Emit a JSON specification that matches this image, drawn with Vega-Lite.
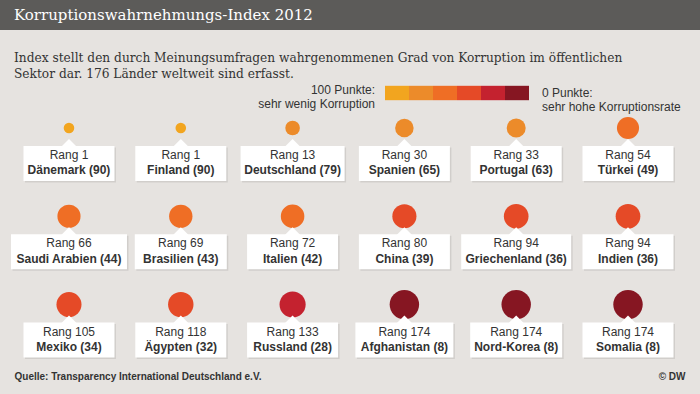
{
  "$schema": "https://vega.github.io/schema/vega-lite/v6.json",
  "width": 700,
  "height": 364,
  "autosize": {"type": "none"},
  "padding": {"top": 30, "left": 0, "right": 0, "bottom": 0},
  "background": "#5c5b59",
  "config": {
    "view": {"stroke": null, "fill": "#e6e3e0"},
    "font": "Liberation Sans",
    "axis": {"labels": false, "ticks": false, "domain": false, "grid": false}
  },
  "title": {
    "text": "Korruptionswahrnehmungs-Index 2012",
    "subtitle": ["Index stellt den durch Meinungsumfragen wahrgenommenen Grad von Korruption im öffentlichen", "Sektor dar. 176 Länder weltweit sind erfasst."],
    "anchor": "start",
    "frame": "group",
    "dx": 14,
    "offset": -50,
    "font": "DejaVu Serif",
    "fontSize": 15,
    "fontWeight": "normal",
    "color": "#ffffff",
    "subtitleFont": "DejaVu Serif",
    "subtitleFontSize": 12.2,
    "subtitleColor": "#333333",
    "subtitleLineHeight": 16,
    "subtitlePadding": 29
  },
  "data": {
    "values": [
      {"land": "Dänemark", "rang": 1, "punkte": 90},
      {"land": "Finland", "rang": 1, "punkte": 90},
      {"land": "Deutschland", "rang": 13, "punkte": 79},
      {"land": "Spanien", "rang": 30, "punkte": 65},
      {"land": "Portugal", "rang": 33, "punkte": 63},
      {"land": "Türkei", "rang": 54, "punkte": 49},
      {"land": "Saudi Arabien", "rang": 66, "punkte": 44},
      {"land": "Brasilien", "rang": 69, "punkte": 43},
      {"land": "Italien", "rang": 72, "punkte": 42},
      {"land": "China", "rang": 80, "punkte": 39},
      {"land": "Griechenland", "rang": 94, "punkte": 36},
      {"land": "Indien", "rang": 94, "punkte": 36},
      {"land": "Mexiko", "rang": 105, "punkte": 34},
      {"land": "Ägypten", "rang": 118, "punkte": 32},
      {"land": "Russland", "rang": 133, "punkte": 28},
      {"land": "Afghanistan", "rang": 174, "punkte": 8},
      {"land": "Nord-Korea", "rang": 174, "punkte": 8},
      {"land": "Somalia", "rang": 174, "punkte": 8}
    ]
  },
  "transform": [
    {"window": [{"op": "row_number", "as": "i"}]},
    {"calculate": "(datum.i - 1) % 6 + 1", "as": "col"},
    {"calculate": "floor((datum.i - 1) / 6) + 1", "as": "row"},
    {"calculate": "'Rang ' + datum.rang", "as": "rl"},
    {"calculate": "datum.land + ' (' + datum.punkte + ')'", "as": "nl"},
    {"calculate": "max(91, 6 * length(datum.nl) + 8) / 2 / 111.8", "as": "hw"},
    {"calculate": "datum.col - datum.hw", "as": "xl"},
    {"calculate": "datum.col + datum.hw", "as": "xr"}
  ],
  "encoding": {
    "x": {
      "field": "col", "type": "quantitative",
      "scale": {"domain": [0.383, 6.644], "nice": false, "zero": false},
      "axis": {"orient": "bottom", "title": "Quelle: Transparency International Deutschland e.V.", "titleAnchor": "start", "titleAlign": "left", "titleX": 14, "titleY": -15, "titleBaseline": "alphabetic", "titleFont": "Liberation Sans", "titleFontSize": 10, "titleFontWeight": "bold", "titleColor": "#333333"}
    },
    "y": {
      "field": "row", "type": "quantitative",
      "scale": {"domain": [-0.3137, 3.8087], "nice": false, "zero": false, "reverse": true},
      "axis": {"orient": "right", "title": "© DW", "titleAngle": 0, "titleAlign": "right", "titleX": -15, "titleY": 349, "titleBaseline": "alphabetic", "titleFont": "Liberation Sans", "titleFontSize": 10, "titleFontWeight": "bold", "titleColor": "#333333"}
    }
  },
  "layer": [
    {
      "mark": {"type": "point", "filled": true, "shape": "circle", "opacity": 1, "yOffset": -18, "strokeWidth": 0},
      "encoding": {
        "size": {"field": "punkte", "type": "quantitative", "scale": {"domain": [100, 0], "range": [20, 940], "zero": false, "nice": false}, "legend": null},
        "opacity": {"field": "punkte", "type": "quantitative", "scale": {"type": "threshold", "domain": [20, 30, 40, 50, 80], "range": [1, 1, 1, 1, 1, 1]}},
        "color": {
          "field": "punkte", "type": "quantitative",
          "scale": {"type": "threshold", "domain": [20, 30, 40, 50, 80], "range": ["#861622", "#c4222f", "#e54a27", "#ef6e25", "#ec8b2a", "#f2a51f"]},
          "legend": {
            "type": "symbol",
            "orient": "none", "legendX": 258, "legendY": 51,
            "direction": "horizontal", "columns": 6, "columnPadding": 0,
            "values": [90, 79, 49, 39, 28, 8],
            "symbolType": "M-1,-0.6L1,-0.6L1,0.6L-1,0.6Z", "symbolSize": 576, "symbolStrokeWidth": 0, "symbolOpacity": 1,
            "labelOffset": {"expr": "datum.value == 8 ? 13 : 0"},
            "labelExpr": "datum.value == 8 ? ['0 Punkte:', 'sehr hohe Korruptionsrate'] : ['', '']",
            "labelFont": "Liberation Sans", "labelFontSize": 12, "labelColor": "#333333", "labelLimit": 300, "labelLineHeight": 14,
            "title": ["100 Punkte:", "sehr wenig Korruption"],
            "titleOrient": "left", "titleAlign": "right", "titleFont": "Liberation Sans", "titleFontSize": 12, "titleFontWeight": "normal", "titleColor": "#333333", "titlePadding": -107, "titleLineHeight": 14, "titleLimit": 300,
            "padding": 0, "offset": 0
          }
        }
      }
    },
    {
      "mark": {"type": "rect", "fill": "#000000", "opacity": 0.09, "xOffset": 1.5, "x2Offset": 1.5, "yOffset": 1.5, "y2Offset": 36.5},
      "encoding": {
        "x": {"field": "xl", "type": "quantitative"},
        "x2": {"field": "xr"},
        "y2": {"field": "row"}
      }
    },
    {
      "mark": {"type": "rect", "fill": "#ffffff", "y2Offset": 35},
      "encoding": {
        "x": {"field": "xl", "type": "quantitative"},
        "x2": {"field": "xr"},
        "y2": {"field": "row"}
      }
    },
    {
      "mark": {"type": "point", "filled": true, "shape": "M-1,1L0,0L1,1Z", "size": 256, "fill": "#ffffff", "opacity": 1, "strokeWidth": 0, "yOffset": -7}
    },
    {
      "mark": {"type": "text", "dy": 13, "baseline": "alphabetic", "fontSize": 12, "color": "#333333", "font": "Liberation Sans"},
      "encoding": {"text": {"field": "rl"}}
    },
    {
      "mark": {"type": "text", "dy": 28.5, "baseline": "alphabetic", "fontSize": 12, "fontWeight": "bold", "color": "#333333", "font": "Liberation Sans"},
      "encoding": {"text": {"field": "nl"}}
    }
  ]
}
